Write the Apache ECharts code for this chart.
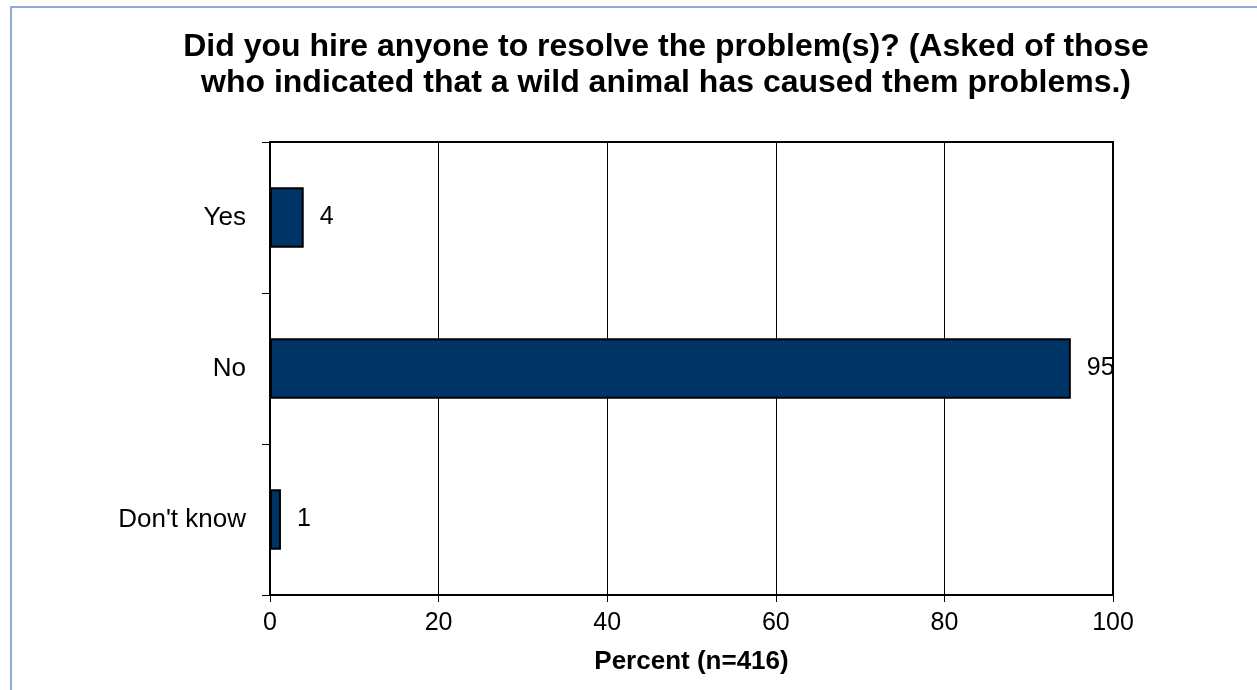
<!DOCTYPE html>
<html>
<head>
<meta charset="utf-8">
<script src="https://cdn.jsdelivr.net/npm/echarts@6/dist/echarts.min.js"></script>
<style>
html,body{margin:0;padding:0;background:#fff;}
#c{width:1257px;height:690px;}
</style>
</head>
<body>
<div id="c"></div>
<script>
const categories = ["Yes", "No", "Don't know"];
const percentValues = [4, 95, 1.3];
const xTicks = [0, 20, 40, 60, 80, 100];
const titleText = "Did you hire anyone to resolve the problem(s)? (Asked of those\nwho indicated that a wild animal has caused them problems.)";
const axisName = "Percent (n=416)";

const chart = echarts.init(document.getElementById('c'), null, {renderer: 'canvas'});
const FONT = '"Liberation Sans", Arial, sans-serif';
chart.setOption({
  animation: false,
  backgroundColor: '#fff',
  graphic: [{
    type: 'rect', silent: true, z: -1,
    shape: {x: 11, y: 7, width: 1400, height: 900},
    style: {fill: 'none', stroke: '#8eaad8', lineWidth: 2}
  }],
  title: {
    text: titleText,
    left: 661, top: 24, textAlign: 'center',
    textStyle: {fontFamily: FONT, fontSize: 32, fontWeight: 'bold', color: '#000', lineHeight: 36}
  },
  grid: {left: 270, right: 144, top: 142, bottom: 95, show: true, borderColor: '#000', borderWidth: 2, backgroundColor: 'transparent'},
  xAxis: {
    type: 'value', min: xTicks[0], max: xTicks[xTicks.length-1], interval: 20,
    name: axisName, nameLocation: 'middle', nameGap: 54,
    nameTextStyle: {fontFamily: FONT, fontSize: 26, fontWeight: 'bold', color: '#000'},
    axisLine: {show: true, lineStyle: {color: '#000', width: 2}},
    axisTick: {show: true, length: 7, lineStyle: {color: '#000', width: 1}},
    axisLabel: {fontFamily: FONT, fontSize: 25, color: '#000', margin: 16},
    splitLine: {show: true, lineStyle: {color: '#000', width: 1}}
  },
  yAxis: {
    type: 'category', data: categories, inverse: true,
    axisLine: {show: true, lineStyle: {color: '#000', width: 2}},
    axisTick: {show: true, length: 8, lineStyle: {color: '#000', width: 1}},
    axisLabel: {fontFamily: FONT, fontSize: 26, color: '#000', margin: 24},
    splitLine: {show: false}
  },
  series: [{
    type: 'bar', data: percentValues, barCategoryGap: '60%',
    itemStyle: {color: '#003366', borderColor: '#000', borderWidth: 2},
    label: {show: true, position: 'right', distance: 16, fontFamily: FONT, fontSize: 25, color: '#000',
      formatter: p => String(Math.round(p.value))}
  }]
});
</script>
</body>
</html>
